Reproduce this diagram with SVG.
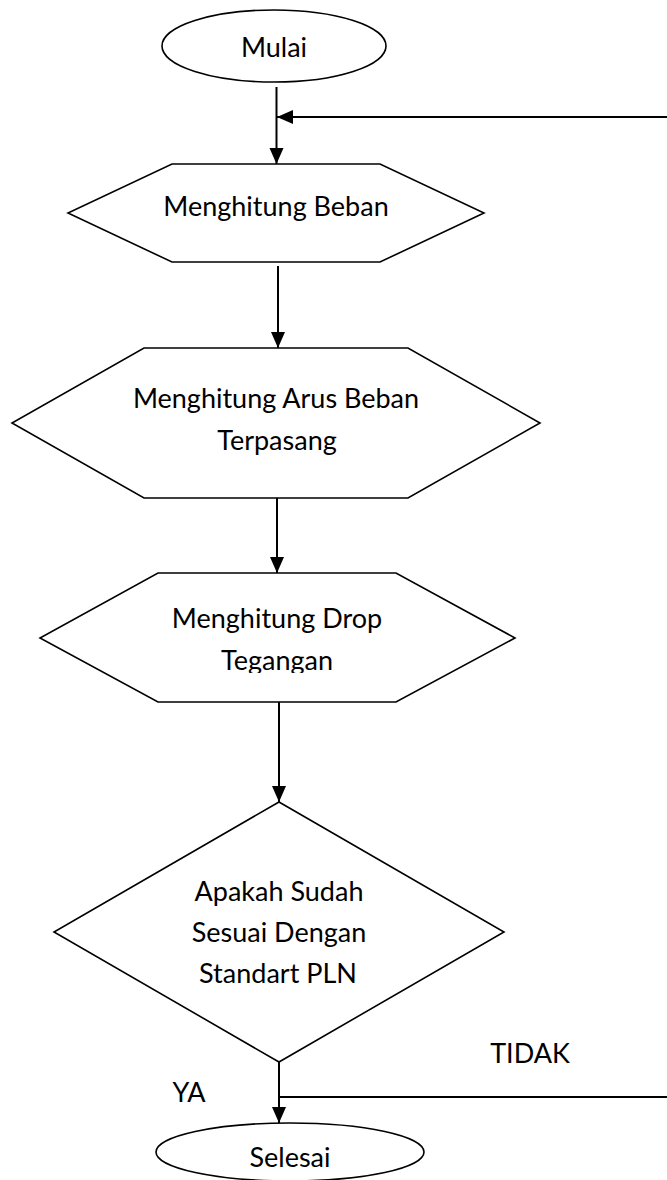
<svg xmlns="http://www.w3.org/2000/svg" width="667" height="1180" viewBox="0 0 667 1180">
  <style>
    .shape { fill: #ffffff; stroke: #000000; stroke-width: 1.6; }
    .conn { fill: none; stroke: #000000; stroke-width: 2; }
    .lbl { font-family: Lato, "Liberation Sans", sans-serif; font-size: 27px; fill: #000000; text-anchor: middle; }
  </style>
  <defs>
    <marker id="arrow" markerUnits="userSpaceOnUse" markerWidth="16" markerHeight="16" viewBox="0 0 16 16" refX="16" refY="8" orient="auto">
      <path d="M0,1 L16,8 L0,15 Z" fill="#000000"/>
    </marker>
    <clipPath id="clipTeg">
      <rect x="0" y="560" width="667" height="113"/>
    </clipPath>
  </defs>

  <rect x="0" y="0" width="667" height="1180" fill="#ffffff"/>

  <g id="connectors">
    <line class="conn" x1="276.5" y1="87" x2="276.5" y2="164" marker-end="url(#arrow)"/>
    <line class="conn" x1="667" y1="117" x2="277" y2="117" marker-end="url(#arrow)"/>
    <line class="conn" x1="278" y1="266" x2="278" y2="348" marker-end="url(#arrow)"/>
    <line class="conn" x1="277" y1="498" x2="277" y2="573" marker-end="url(#arrow)"/>
    <line class="conn" x1="279" y1="702" x2="279" y2="802" marker-end="url(#arrow)"/>
    <line class="conn" x1="279" y1="1062" x2="279" y2="1123" marker-end="url(#arrow)"/>
    <line class="conn" x1="279" y1="1097" x2="667" y2="1097"/>
  </g>

  <g id="mulai">
    <ellipse class="shape" cx="274" cy="46" rx="112" ry="36"/>
    <text class="lbl" x="274" y="57">Mulai</text>
  </g>

  <g id="menghitung-beban">
    <polygon class="shape" points="172,164 380,164 484,213 380,262 172,262 68,213"/>
    <text class="lbl" x="276" y="216">Menghitung Beban</text>
  </g>

  <g id="menghitung-arus">
    <polygon class="shape" points="144,348 408,348 540,423 408,498 144,498 12,423"/>
    <text class="lbl" x="276" y="408">Menghitung Arus Beban</text>
    <text class="lbl" x="277" y="450">Terpasang</text>
  </g>

  <g id="menghitung-drop">
    <polygon class="shape" points="158,573 396,573 515,638 396,702 158,702 40,638"/>
    <text class="lbl" x="277" y="628">Menghitung Drop</text>
    <text class="lbl" x="277" y="670" clip-path="url(#clipTeg)">Tegangan</text>
  </g>

  <g id="keputusan">
    <polygon class="shape" points="279,802 504,932 279,1062 54,932"/>
    <text class="lbl" x="279" y="901">Apakah Sudah</text>
    <text class="lbl" x="279" y="942">Sesuai Dengan</text>
    <text class="lbl" x="278" y="983">Standart PLN</text>
  </g>

  <g id="label-tidak">
    <text class="lbl" x="530" y="1063">TIDAK</text>
  </g>
  <g id="label-ya">
    <text class="lbl" x="189" y="1102">YA</text>
  </g>

  <g id="selesai">
    <ellipse class="shape" cx="290" cy="1152" rx="134" ry="29"/>
    <text class="lbl" x="290" y="1167">Selesai</text>
  </g>
</svg>
